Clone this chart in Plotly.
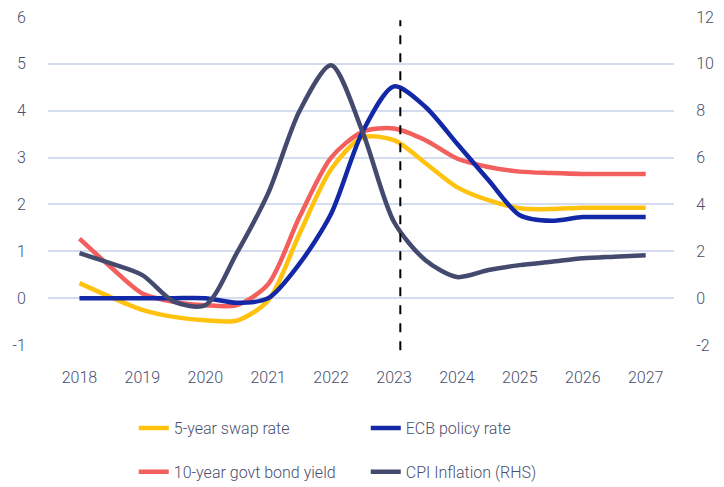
import plotly.graph_objects as go

# half-year steps
years = [2018, 2018.5, 2019, 2019.5, 2020, 2020.5, 2021, 2021.5, 2022, 2022.5,
         2023, 2023.5, 2024, 2024.5, 2025, 2025.5, 2026, 2026.5, 2027]

swap_5y = [0.32, 0.02, -0.25, -0.4, -0.47, -0.48, -0.05, 1.38, 2.75, 3.43,
           3.37, 2.88, 2.37, 2.09, 1.92, 1.90, 1.93, 1.93, 1.93]
ecb_rate = [0, 0, 0, 0, 0, -0.1, 0, 0.74, 1.8, 3.55,
            4.52, 4.08, 3.3, 2.52, 1.77, 1.65, 1.73, 1.73, 1.73]
govt_10y = [1.27, 0.66, 0.1, -0.08, -0.15, -0.15, 0.3, 1.74, 3.0, 3.55,
            3.62, 3.37, 2.98, 2.8, 2.7, 2.67, 2.65, 2.65, 2.65]
cpi_rhs = [1.92, 1.48, 0.98, -0.15, -0.3, 1.92, 4.48, 8.0, 9.94, 7.1,
           3.25, 1.62, 0.9, 1.2, 1.41, 1.55, 1.7, 1.77, 1.83]

year_ticks = list(range(2018, 2028))
left_ticks = [-1, 0, 1, 2, 3, 4, 5, 6]
right_ticks = [-2, 0, 2, 4, 6, 8, 10, 12]
forecast_start = 2023.1

font = "Roboto"
txt = "#4a4f6e"
grid = "#d6dcf0"
tick_font = dict(family=font, size=16, color=txt, weight=300)

fig = go.Figure()

# draw order: yellow, red, blue, cpi (cpi on top)
fig.add_trace(go.Scatter(x=years, y=swap_5y, name="5-year swap rate", mode="lines",
                         line=dict(color="#ffc20e", width=4.5, shape="spline", smoothing=0.8),
                         legend="legend"))
fig.add_trace(go.Scatter(x=years, y=govt_10y, name="10-year govt bond yield", mode="lines",
                         line=dict(color="#f25f5c", width=4.5, shape="spline", smoothing=0.8),
                         legend="legend2"))
fig.add_trace(go.Scatter(x=years, y=ecb_rate, name="ECB policy rate", mode="lines",
                         line=dict(color="#1228a6", width=4.5, shape="spline", smoothing=0.8),
                         legend="legend"))
fig.add_trace(go.Scatter(x=years, y=cpi_rhs, name="CPI Inflation (RHS)", mode="lines", yaxis="y2",
                         line=dict(color="#444a6e", width=4.5, shape="spline", smoothing=0.8),
                         legend="legend2"))

fig.add_shape(type="line", xref="x", yref="paper", x0=forecast_start, x1=forecast_start,
              y0=-0.016, y1=0.99, line=dict(color="black", width=2, dash="dash"))

fig.update_layout(
    width=724, height=487,
    margin=dict(l=48, r=50, t=17, b=142, autoexpand=False),
    plot_bgcolor="white", paper_bgcolor="white",
    font=dict(family=font, size=16, color=txt, weight=300),
    showlegend=True,
    xaxis=dict(range=[2017.5, 2027.45], tickvals=year_ticks, ticktext=[str(y) for y in year_ticks],
               showgrid=False, zeroline=False, showline=False, automargin=False,
               ticks="outside", ticklen=18, tickcolor="rgba(0,0,0,0)", tickfont=tick_font),
    yaxis=dict(range=[-1, 6], tickvals=left_ticks, ticktext=[str(v) for v in left_ticks],
               showgrid=True, gridcolor=grid, gridwidth=1.5,
               zeroline=False, showline=False, automargin=False,
               ticks="outside", ticklen=18, tickcolor="rgba(0,0,0,0)", tickfont=tick_font),
    yaxis2=dict(range=[-2, 12], tickvals=right_ticks, ticktext=[str(v) for v in right_ticks],
                overlaying="y", side="right", showgrid=False,
                zeroline=False, showline=False, automargin=False,
                ticks="outside", ticklen=18, tickcolor="rgba(0,0,0,0)", tickfont=tick_font),
    legend=dict(orientation="h", x=0.137, xanchor="left", y=-0.253, yanchor="middle",
                entrywidth=187, font=tick_font, bgcolor="rgba(0,0,0,0)", traceorder="normal"),
    legend2=dict(orientation="h", x=0.137, xanchor="left", y=-0.387, yanchor="middle",
                 entrywidth=187, font=tick_font, bgcolor="rgba(0,0,0,0)", traceorder="normal"),
)

# page body has a default 8px margin, drop it so the figure fills the window
fig.write_html("out.html", config={"displayModeBar": False},
               post_script="document.body.style.margin='0';")
